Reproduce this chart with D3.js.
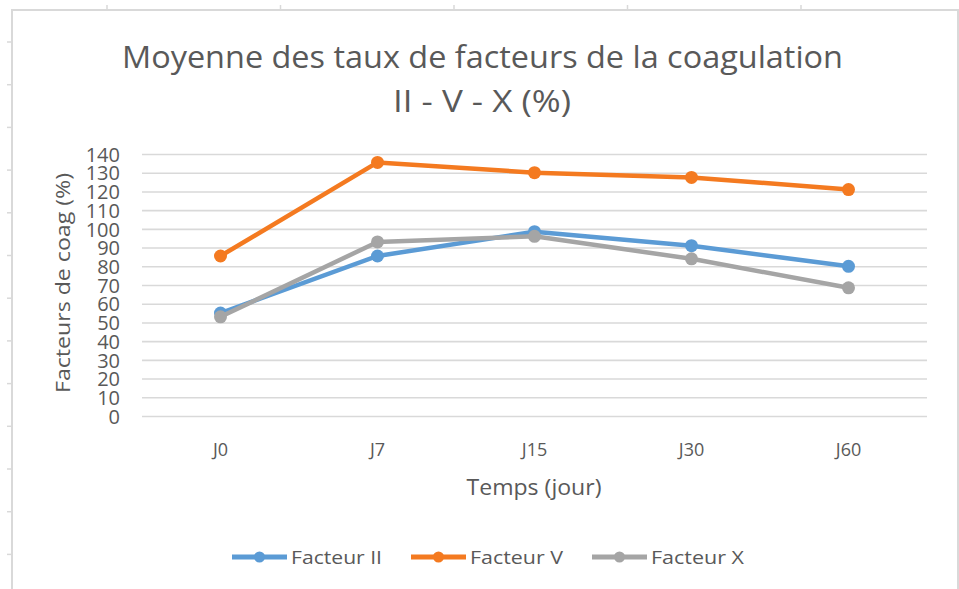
<!DOCTYPE html>
<html>
<head>
<meta charset="utf-8">
<script src="https://cdn.jsdelivr.net/npm/d3@7/dist/d3.min.js"></script>
<style>
  html, body { margin: 0; padding: 0; background: #ffffff; }
  svg { display: block; }
  text { font-family: "Open Sans", "Liberation Sans", sans-serif; fill: #595959; }
</style>
</head>
<body>
<svg id="chart" width="959" height="589"></svg>
<script>
// ---- Data ----
const categories = ["J0", "J7", "J15", "J30", "J60"];
const facteurII = [55, 85.5, 98.5, 91, 80];
const facteurV  = [85.5, 135.5, 130, 127.5, 121];
const facteurX  = [53, 93, 96, 84, 68.5];
const seriesNames = ["Facteur II", "Facteur V", "Facteur X"];
const yTickValues = [0, 10, 20, 30, 40, 50, 60, 70, 80, 90, 100, 110, 120, 130, 140];
const titleLines = ["Moyenne des taux de facteurs de la coagulation", "II - V - X (%)"];
const yAxisTitle = "Facteurs de coag (%)";
const xAxisTitle = "Temps (jour)";

// ---- Setup ----
const colors = ["#5B9BD5", "#F47A20", "#A5A5A5"];
const seriesValues = [facteurII, facteurV, facteurX];
const series = seriesNames.map((name, i) => ({ name, color: colors[i], values: seriesValues[i] }));

const svg = d3.select("#chart");
const W = 959, H = 589;

// outer frame and ruler ticks
svg.append("rect").attr("x", 12).attr("y", 10).attr("width", 946).attr("height", 620)
  .attr("fill", "#ffffff").attr("stroke", "#d9d9d9").attr("stroke-width", 2);
const topTicks = d3.range(107, 959, 173.5);
svg.selectAll("line.tt").data(topTicks).join("line").attr("class", "tt")
  .attr("x1", d => d).attr("x2", d => d).attr("y1", 5).attr("y2", 9)
  .attr("stroke", "#d9d9d9").attr("stroke-width", 1.5);
const leftTicks = d3.range(42, 589, 42.7);
svg.selectAll("line.lt").data(leftTicks).join("line").attr("class", "lt")
  .attr("x1", 7).attr("x2", 11).attr("y1", d => d).attr("y2", d => d)
  .attr("stroke", "#d9d9d9").attr("stroke-width", 1.5);

const plot = { left: 142, right: 927, top: 154, bottom: 416 };
const x = d3.scaleBand().domain(categories).range([plot.left, plot.right]);
const y = d3.scaleLinear().domain([0, 140]).range([plot.bottom, plot.top]);
const cx = d => x(d) + x.bandwidth() / 2;

// gridlines via axis
const grid = svg.append("g").attr("transform", `translate(${plot.left},0)`)
  .call(d3.axisLeft(y).tickValues(yTickValues).tickSize(-(plot.right - plot.left)).tickFormat(""));
grid.select(".domain").remove();
grid.selectAll(".tick line").attr("stroke", "#d9d9d9").attr("stroke-width", 1.6);

// y tick labels
const yAx = svg.append("g").attr("transform", `translate(${plot.left},0)`)
  .call(d3.axisLeft(y).tickValues(yTickValues).tickSize(0).tickPadding(22));
yAx.select(".domain").remove();
yAx.selectAll("text").attr("font-size", 20).attr("fill", "#595959")
  .attr("font-family", "'Open Sans', sans-serif").attr("dy", "0.36em");

// x labels
const xAx = svg.append("g").attr("transform", `translate(0,${plot.bottom})`)
  .call(d3.axisBottom(x).tickSize(0).tickPadding(0));
xAx.select(".domain").remove();
xAx.selectAll("text").attr("font-size", 18).attr("fill", "#595959")
  .attr("font-family", "'Open Sans', sans-serif").attr("dy", null).attr("y", 40);

// Title
svg.append("text").attr("x", 482.5).attr("y", 68).attr("text-anchor", "middle")
  .attr("font-size", 31).attr("textLength", 721).attr("lengthAdjust", "spacingAndGlyphs")
  .text(titleLines[0]);
svg.append("text").attr("x", 482).attr("y", 112).attr("text-anchor", "middle")
  .attr("font-size", 31).attr("textLength", 178).attr("lengthAdjust", "spacingAndGlyphs")
  .text(titleLines[1]);

// axis titles
svg.append("text").attr("transform", "translate(70,283) rotate(-90)").attr("text-anchor", "middle")
  .attr("font-size", 20).attr("textLength", 220).attr("lengthAdjust", "spacingAndGlyphs")
  .text(yAxisTitle);
svg.append("text").attr("x", 534).attr("y", 495).attr("text-anchor", "middle")
  .attr("font-size", 21).attr("textLength", 135).attr("lengthAdjust", "spacingAndGlyphs")
  .text(xAxisTitle);

// lines
const line = d3.line().x((d, i) => cx(categories[i])).y(d => y(d));
const gS = svg.append("g");
series.forEach(s => {
  gS.append("path").attr("d", line(s.values)).attr("fill", "none")
    .attr("stroke", s.color).attr("stroke-width", 4.5).attr("stroke-linejoin", "round").attr("stroke-linecap", "round");
  gS.selectAll(null).data(s.values).join("circle")
    .attr("cx", (d, i) => cx(categories[i])).attr("cy", d => y(d)).attr("r", 6.5).attr("fill", s.color);
});

// legend
const legendX = [232, 411, 592];
const legendTextW = [91, 93, 93];
const lg = svg.append("g");
series.forEach((s, i) => {
  const g = lg.append("g").attr("transform", `translate(${legendX[i]},557)`);
  g.append("line").attr("x1", 0).attr("x2", 55).attr("y1", 0).attr("y2", 0)
    .attr("stroke", s.color).attr("stroke-width", 5);
  g.append("circle").attr("cx", 27.5).attr("cy", 0).attr("r", 5.5).attr("fill", s.color);
  g.append("text").attr("x", 59).attr("y", 7).attr("font-size", 19)
    .attr("textLength", legendTextW[i]).attr("lengthAdjust", "spacingAndGlyphs").text(s.name);
});
</script>
</body>
</html>
